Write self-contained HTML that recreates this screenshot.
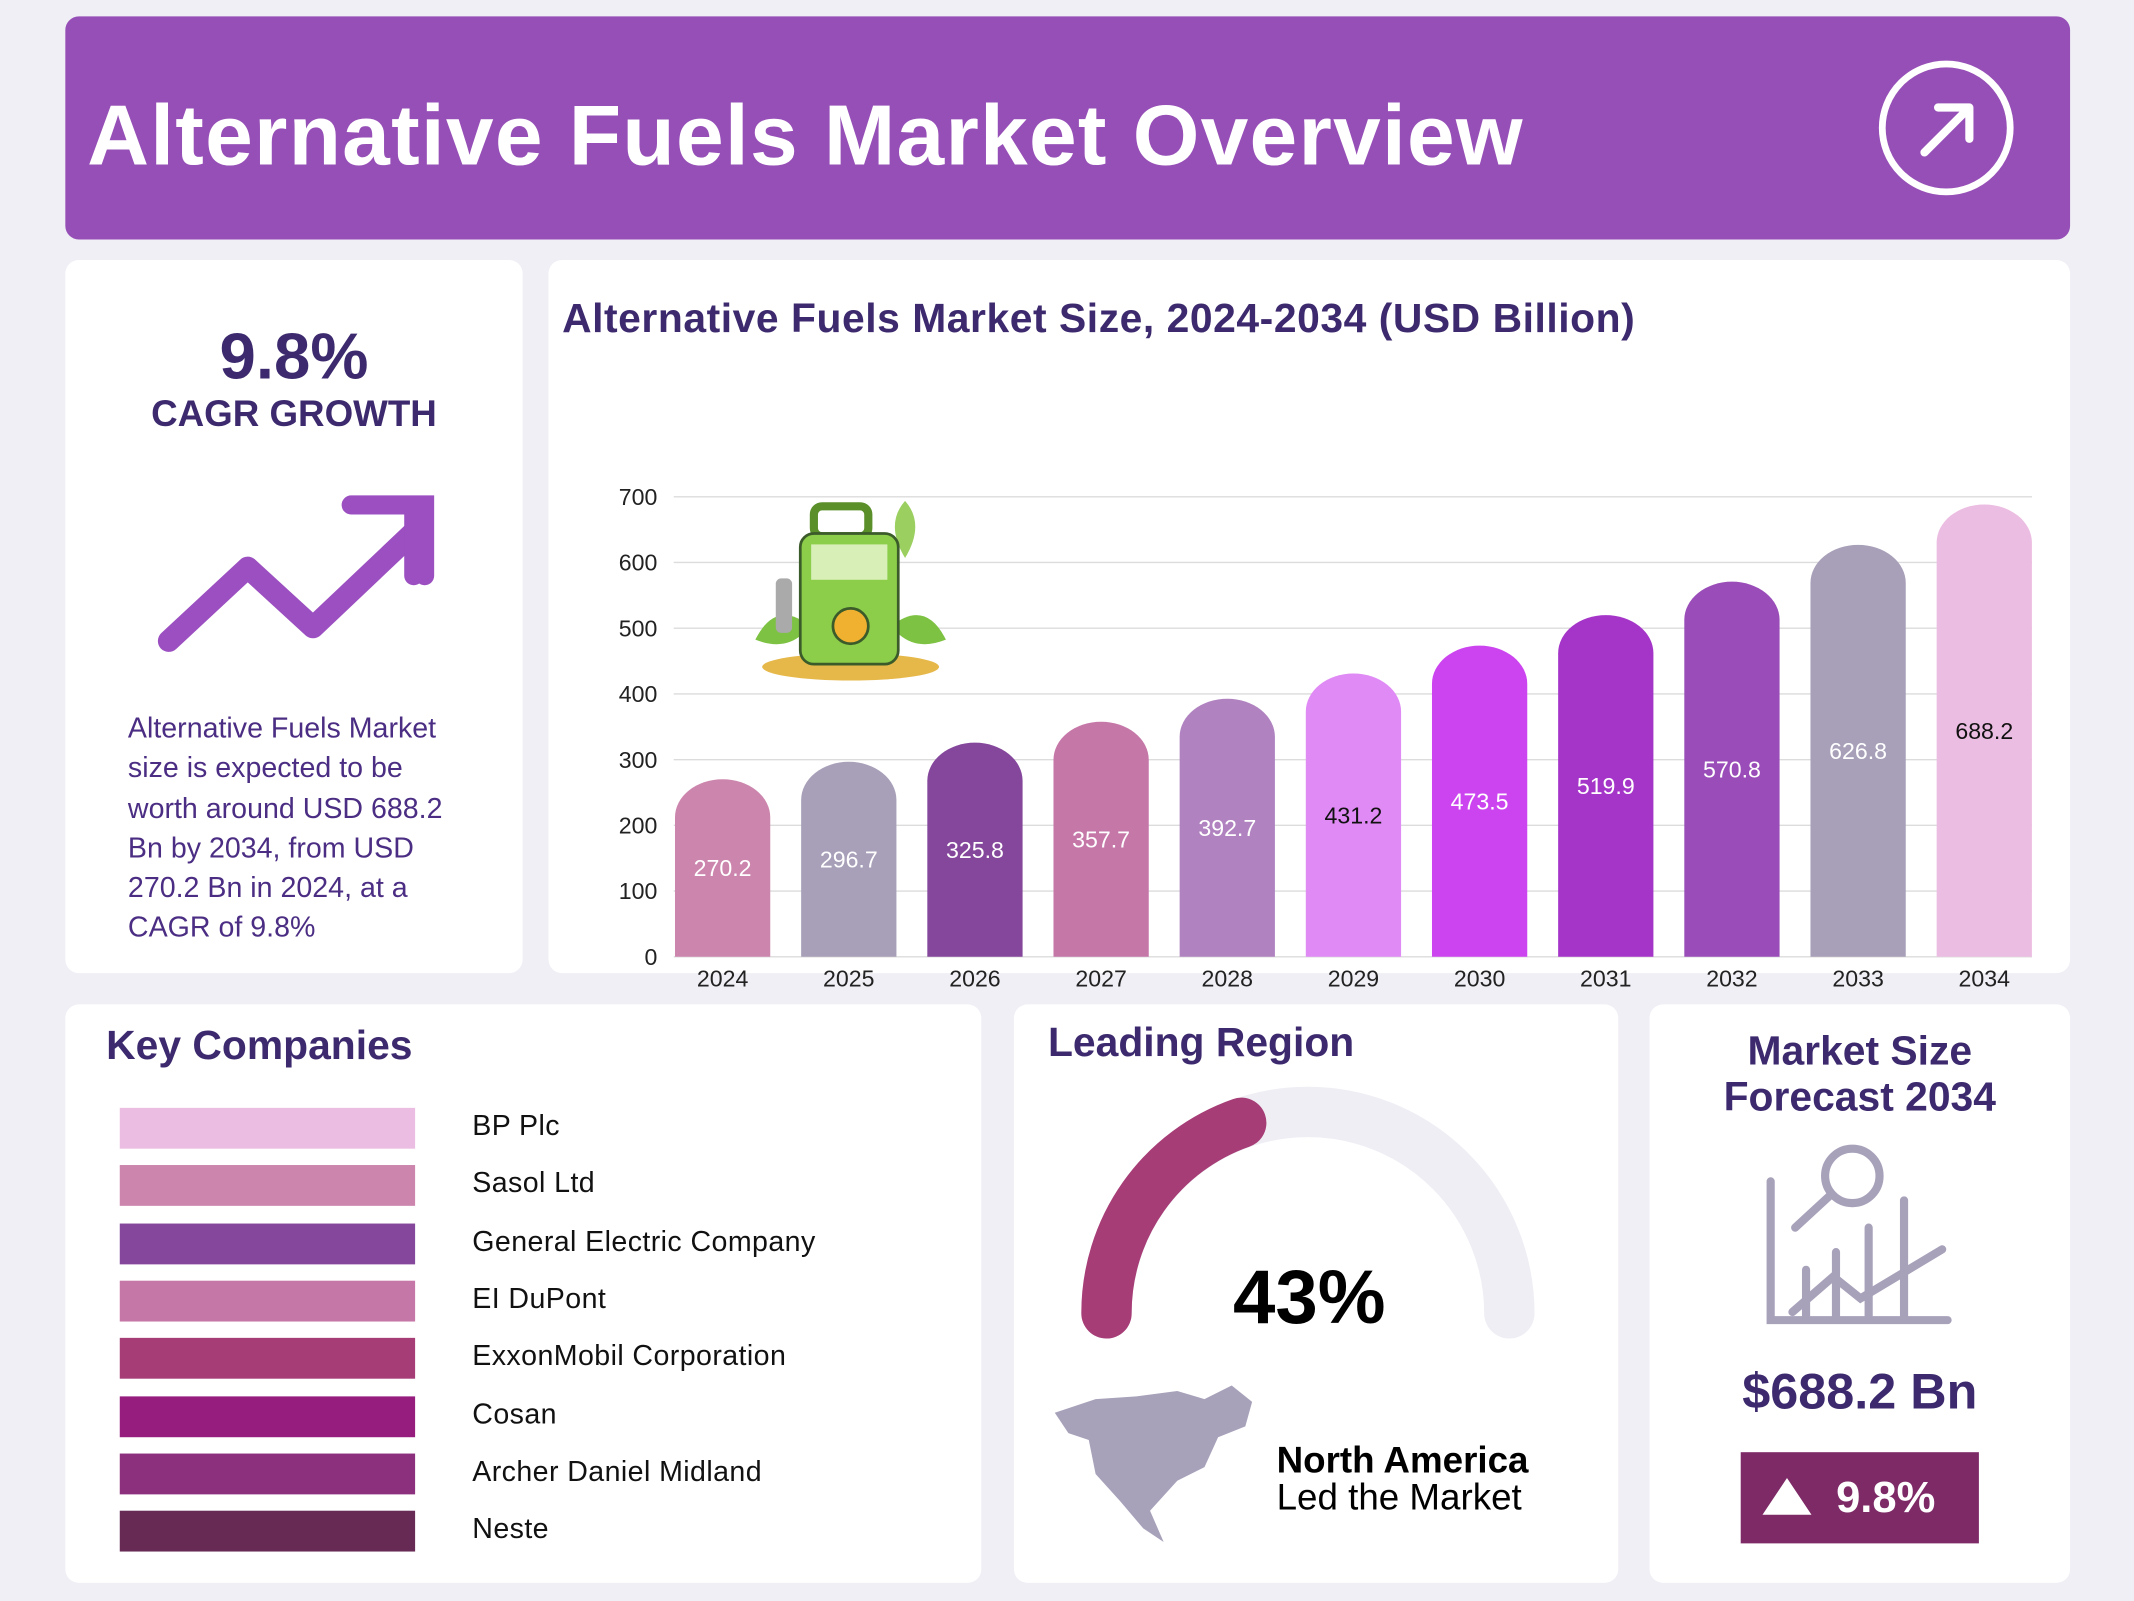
<!DOCTYPE html>
<html><head><meta charset="utf-8">
<style>
html,body{margin:0;padding:0;background:#f0eff5;width:2134px;height:1600px;overflow:hidden}
#wrap{position:absolute;left:0;top:0;width:1568px;height:1176px;transform:scale(1.3610);transform-origin:0 0;font-family:"Liberation Sans",sans-serif;color:#3d2a6e}
.card{position:absolute;background:#fff;border-radius:10px}
.abs{position:absolute}
</style></head><body>
<div id="wrap">
  <div class="card" style="left:48px;top:12px;width:1473px;height:164px;background:#964fb6">
    <div class="abs" style="left:16px;top:52px;font-size:63px;letter-spacing:0.9px;font-weight:bold;color:#fff;white-space:nowrap">Alternative Fuels Market Overview</div>
    <svg class="abs" style="left:1330px;top:30px" width="104" height="104"><circle cx="52" cy="52" r="47" fill="none" stroke="#fff" stroke-width="5"/><path d="M36 70 L68 38 M46 37 H69 V60" fill="none" stroke="#fff" stroke-width="6" stroke-linecap="round" stroke-linejoin="round"/></svg>
  </div>

  <div class="card" style="left:48px;top:191px;width:336px;height:524px">
    <div class="abs" style="left:0;width:336px;top:44px;text-align:center;font-size:48px;font-weight:bold">9.8%</div>
    <div class="abs" style="left:0;width:336px;top:98px;text-align:center;font-size:27px;font-weight:bold">CAGR GROWTH</div>
    <svg class="abs" style="left:60px;top:170px" width="220" height="120"><path d="M16 110 L74 56 L122 100 L198 28" fill="none" stroke="#9b4fc0" stroke-width="16" stroke-linecap="round" stroke-linejoin="round"/><path d="M196 10 L196 62 M150 10 H204 V62" fill="none" stroke="#9b4fc0" stroke-width="14" stroke-linecap="round"/></svg>
    <div class="abs" style="left:46px;top:330px;width:258px;font-size:21px;line-height:29.3px;color:#4b2e83">Alternative Fuels Market size is expected to be worth around USD 688.2 Bn by 2034, from USD 270.2 Bn in 2024, at a CAGR of 9.8%</div>
  </div>

  <div class="card" style="left:403px;top:191px;width:1118px;height:524px">
    <div class="abs" style="left:10px;top:27px;font-size:30px;letter-spacing:0.4px;font-weight:bold;white-space:nowrap">Alternative Fuels Market Size, 2024-2034 (USD Billion)</div>
  </div>
  <svg id="chart" class="abs" style="left:0;top:0" width="1568" height="740"></svg>

  <div class="card" style="left:48px;top:738px;width:673px;height:425px">
    <div class="abs" style="left:30px;top:14px;font-size:30px;font-weight:bold">Key Companies</div>
  </div>
  <div id="companies"></div>

  <div class="card" style="left:745px;top:738px;width:444px;height:425px">
    <div class="abs" style="left:25px;top:12px;font-size:30px;font-weight:bold">Leading Region</div>
    <svg class="abs" style="left:0;top:0" width="444" height="425">
      <path d="M68 227 A148 148 0 0 1 364 227" fill="none" stroke="#efeef4" stroke-width="37" stroke-linecap="round"/>
      <path d="M68 227 A148 148 0 0 1 167 87" fill="none" stroke="#a63d76" stroke-width="37" stroke-linecap="round"/>
      <path d="M30 300 L60 290 L90 288 L120 284 L140 290 L160 280 L175 292 L170 310 L150 318 L140 340 L120 350 L100 372 L110 395 L95 385 L78 365 L60 345 L55 320 L40 315 Z" fill="#a8a1ba"/>
    </svg>
    <div class="abs" style="left:0;width:434px;top:182px;text-align:center;font-size:56px;font-weight:bold;color:#000">43%</div>
    <div class="abs" style="left:193px;top:322px;font-size:27px;line-height:27px;color:#000"><b>North America</b><br>Led the Market</div>
  </div>

  <div class="card" style="left:1212px;top:738px;width:309px;height:425px">
    <div class="abs" style="left:0;width:309px;top:18px;text-align:center;font-size:30px;line-height:34px;font-weight:bold">Market Size<br>Forecast 2034</div>
    <svg class="abs" style="left:85px;top:100px" width="140" height="135" fill="none" stroke="#a8a1ba" stroke-width="6" stroke-linecap="round">
      <path d="M4 30 V132 H134"/><circle cx="64" cy="26" r="20"/><path d="M48 40 L22 64"/>
      <path d="M30 130 V95 M52 130 V82 M76 130 V64 M102 130 V44"/>
      <path d="M20 126 L50 100 L70 116 L130 80"/>
    </svg>
    <div class="abs" style="left:0;width:309px;top:264px;text-align:center;font-size:37px;font-weight:bold">$688.2 Bn</div>
    <div class="abs" style="left:67px;top:329px;width:175px;height:67px;background:#7d2a66;color:#fff;font-size:32px;font-weight:bold;line-height:67px;text-align:right;box-sizing:border-box;padding-right:32px">
      <span style="position:absolute;left:16px;top:19px;width:0;height:0;border-left:18px solid transparent;border-right:18px solid transparent;border-bottom:27px solid #fff"></span>9.8%</div>
  </div>
</div>
<script>
const years=["2024","2025","2026","2027","2028","2029","2030","2031","2032","2033","2034"];
const values=[270.2,296.7,325.8,357.7,392.7,431.2,473.5,519.9,570.8,626.8,688.2];
const yTicks=[0,100,200,300,400,500,600,700];
const barColors=["#cc86ad","#a89fb8","#84479b","#c577a8","#b083c0","#e08af5","#cc44f0","#a535c8","#9a4db8","#a89fb8","#ecbde2"];
const darkLabel=[false,false,false,false,false,true,false,false,false,false,true];
const companies=["BP Plc","Sasol Ltd","General Electric Company","EI DuPont","ExxonMobil Corporation","Cosan","Archer Daniel Midland","Neste"];
const companyColors=["#ecbde2","#cc86ad","#84479b","#c577a8","#a63d76","#961c7e","#8c2f7c","#662a55"];

const NS="http://www.w3.org/2000/svg";
const svg=document.getElementById('chart');
const X0=484.6,GX0=495,X1=1493,Y0=703,Y1=365,MAX=700;
const y=v=>Y0-(v/MAX)*(Y0-Y1);
const step=(1458-531)/10;
const x=i=>X0+step*(i+0.5);
const bw=70;
function mk(t,a){const e=document.createElementNS(NS,t);for(const k in a)e.setAttribute(k,a[k]);svg.appendChild(e);return e;}
yTicks.forEach(t=>{
  const l=mk('line',{x1:GX0,x2:X1,y1:y(t),y2:y(t),stroke:'#dcdcdc','stroke-width':1});
  
  
  const tx=mk('text',{x:483,y:y(t)+6,'text-anchor':'end','font-size':17,fill:'#222','font-family':'Liberation Sans, sans-serif'});
  tx.textContent=t;
  
  
});
values.forEach((v,i)=>{
  const cx=x(i),top=y(v),r=bw/2,ry=28,l=cx-r;
  const p=mk('path',{d:`M${l} ${Y0} V${top+ry} A${r} ${ry} 0 0 1 ${l+bw} ${top+ry} V${Y0} Z`,fill:barColors[i]});
  
  
  const vt=mk('text',{x:cx,y:(top+Y0)/2+6,'text-anchor':'middle','font-size':17,fill:darkLabel[i]?'#111':'#fff','font-family':'Liberation Sans, sans-serif'});
  vt.textContent=v.toFixed(1);
  
  
  const xt=mk('text',{x:cx,y:725,'text-anchor':'middle','font-size':17,fill:'#222','font-family':'Liberation Sans, sans-serif'});
  xt.textContent=years[i];
  
  
});
const g=mk('g',{});


g.innerHTML='<ellipse cx="625" cy="490" rx="65" ry="10" fill="#e6b84a"/><path d="M555 470 Q570 440 595 460 Q580 480 555 470Z" fill="#7dc242"/><path d="M695 470 Q680 440 655 460 Q670 480 695 470Z" fill="#7dc242"/><path d="M665 410 Q650 385 665 368 Q680 385 665 410Z" fill="#9bd060"/><rect x="598" y="372" width="40" height="22" rx="6" fill="none" stroke="#5a8f2a" stroke-width="6"/><rect x="588" y="392" width="72" height="96" rx="10" fill="#8cce4a" stroke="#3b5b2a" stroke-width="2"/><rect x="596" y="400" width="56" height="26" fill="#d8f0b8"/><circle cx="625" cy="460" r="13" fill="#f0b030" stroke="#3b5b2a" stroke-width="2"/><rect x="570" y="425" width="12" height="40" rx="4" fill="#aaa"/>';
const cont=document.getElementById('wrap');
companies.forEach((c,i)=>{
  const cy=829+i*42.3;
  const b=document.createElement('div');
  b.className='abs';
  b.style.cssText=`left:88px;top:${cy-15}px;width:217px;height:30px;background:${companyColors[i]}`;
  
  
  cont.appendChild(b);
  const t=document.createElement('div');
  t.className='abs';
  t.style.cssText=`left:347px;top:${cy-13}px;font-size:21px;letter-spacing:0.3px;color:#111;white-space:nowrap`;
  t.textContent=c;
  
  
  cont.appendChild(t);
});
</script>
</body></html>
